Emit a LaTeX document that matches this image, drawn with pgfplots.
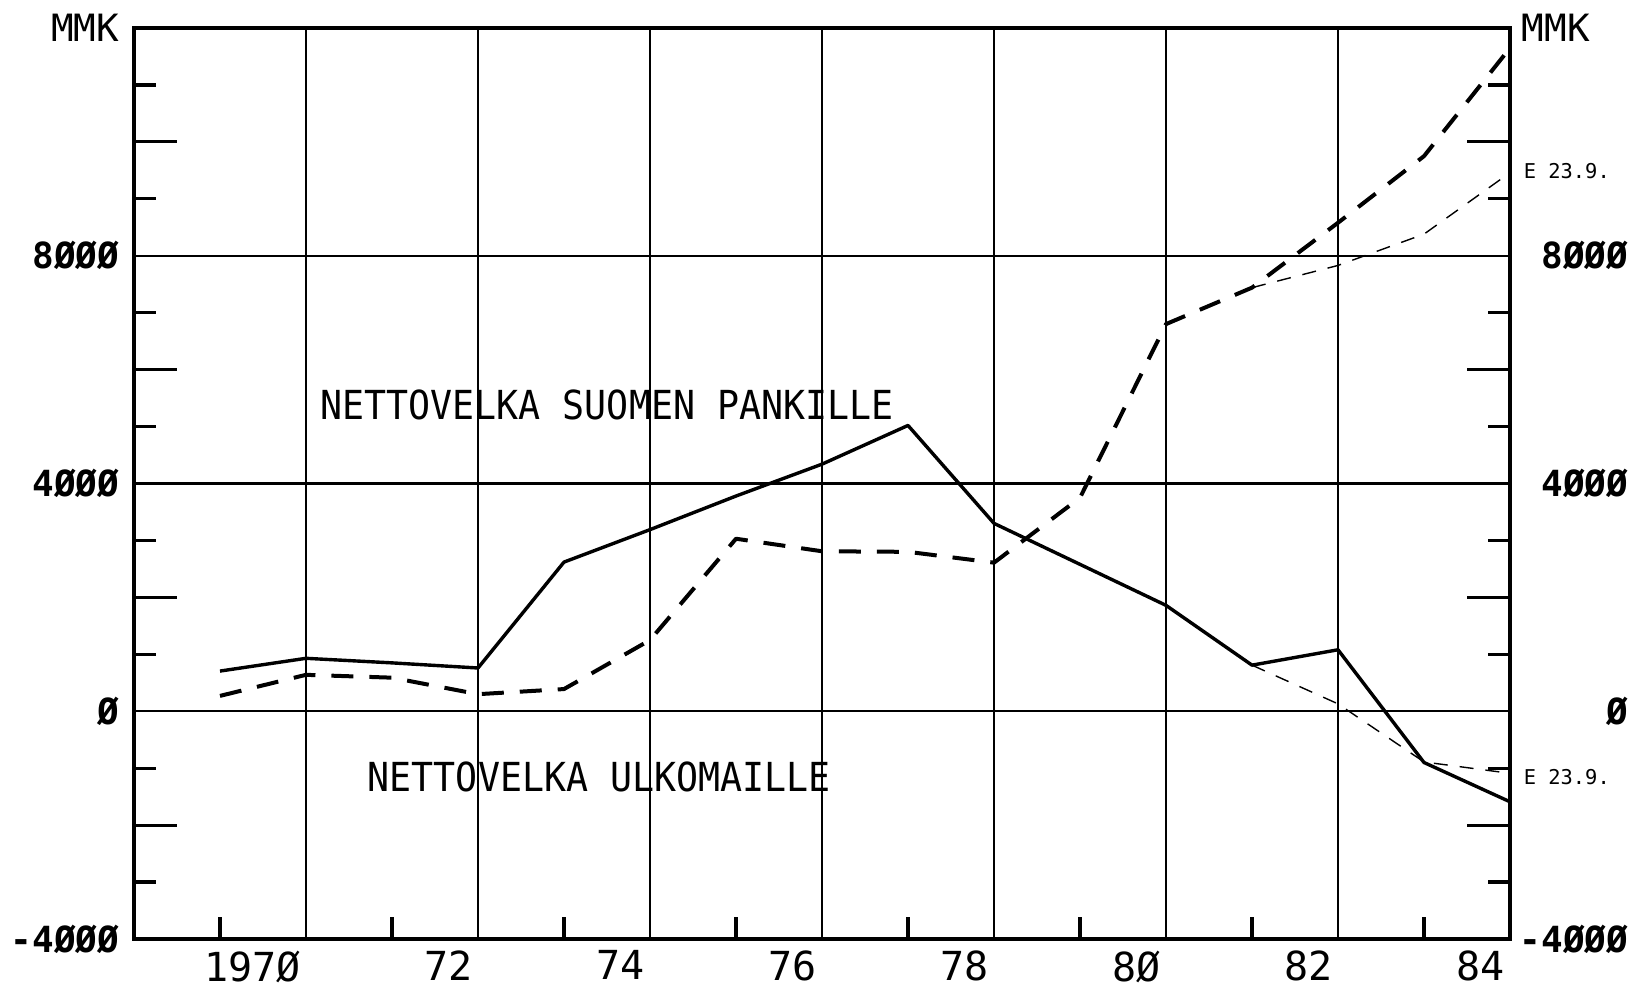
\documentclass[border=0pt]{standalone}
\usepackage{pgfplots}
\pgfplotsset{compat=1.18}
\usepackage{pgfplotstable}
\usepackage{fontspec}
\setmainfont{DejaVu Sans Mono}
\newfontfamily\txf[FakeStretch=0.915]{DejaVu Sans Mono}
\newcommand\xlabfont{\fontsize{10}{10}\selectfont}
\newcommand\ylabfont{\bfseries\fontsize{9}{9}\selectfont}
\newcommand\mmkfont{\fontsize{9.4}{9.4}\selectfont}
\newcommand\annfont{\txf\fontsize{10}{10}\selectfont}
\newcommand\efont{\fontsize{5.1}{5.1}\selectfont}

\pgfplotstableread{
year val
1969 706
1970 930
1971 850
1972 760
1973 2620
1974 3190
1975 3780
1976 4340
1977 5020
1978 3300
1979 2580
1980 1860
1981 810
1982 1080
1983 -900
1984 -1590
}\ulko

\pgfplotstableread{
year val
1969 270
1970 640
1971 590
1972 300
1973 390
1974 1250
1975 3030
1976 2810
1977 2800
1978 2610
1979 3750
1980 6800
1981 7440
1982 8580
1983 9750
1984 11650
}\pankki

\pgfplotstableread{
year val
1981 810
1982 130
1983 -890
1984 -1090
}\ulkoest

\pgfplotstableread{
year val
1981 7440
1982 7830
1983 8380
1984 9460
}\pankkiest

\begin{document}
\begin{tikzpicture}
\begin{axis}[
  scale only axis, width=344pt, height=227.75pt,
  xmin=1968, xmax=1984, ymin=-4000, ymax=12000,
  clip=false,
  axis line style={line width=1pt},
  xtick={1970,1972,...,1984},
  xticklabels={197Ø,72,74,76,78,8Ø,82,84},
  minor xtick={1969,1971,...,1983},
  ytick={-4000,0,4000,8000,12000},
  yticklabels={-4ØØØ,Ø,4ØØØ,8ØØØ,{\mmkfont\mdseries MMK}},
  minor ytick={-3000,-1000,1000,3000,5000,7000,9000,11000},
  extra y ticks={-2000,2000,6000,10000},
  extra y tick labels={},
  extra y tick style={major tick length=10.75pt, grid=none},
  scaled y ticks=false, scaled x ticks=false,
  xmajorgrids, ymajorgrids,
  grid style={line width=0.6pt, black},
  major tick length=0pt, minor tick length=5.5pt,
  tick align=inside,
  xtick pos=left, ytick pos=both,
  tick style={black, line width=0.8pt},
  xticklabel style={font=\xlabfont, anchor=north east, inner sep=0pt, xshift=-1.2pt, yshift=-2.75pt},
  yticklabel style={font=\ylabfont, anchor=east, inner sep=0pt, xshift=-3.5pt},
]
\addplot[black, line width=0.85pt, line join=round] table[x=year,y=val] {\ulko};
\addplot[black, line width=1pt, dash pattern=on 5.5pt off 4pt, line join=round] table[x=year,y=val] {\pankki};
\addplot[black, line width=0.35pt, dash pattern=on 3.5pt off 3pt] table[x=year,y=val] {\ulkoest};
\addplot[black, line width=0.35pt, dash pattern=on 3.5pt off 3pt] table[x=year,y=val] {\pankkiest};
\node[anchor=west, inner sep=0pt, font=\annfont] at (axis cs:1970.16,5385) {NETTOVELKA SUOMEN PANKILLE};
\node[anchor=west, inner sep=0pt, font=\annfont] at (axis cs:1970.71,-1158) {NETTOVELKA ULKOMAILLE};
\node[anchor=west, inner sep=0pt, font=\efont, xshift=3.25pt] at (axis cs:1984,9489) {E 23.9.};
\node[anchor=west, inner sep=0pt, font=\efont, xshift=3.25pt] at (axis cs:1984,-1158) {E 23.9.};
\node[anchor=west, inner sep=0pt, font=\mmkfont, xshift=2.75pt] at (axis cs:1984,12000) {MMK};
\end{axis}
\begin{axis}[
  scale only axis, width=344pt, height=227.75pt,
  xmin=1968, xmax=1984, ymin=-4000, ymax=12000,
  axis line style={draw=none},
  xtick=\empty,
  ytick={-4000,0,4000,8000},
  yticklabels={-4ØØØ,Ø,4ØØØ,8ØØØ},
  scaled y ticks=false,
  major tick length=0pt,
  ytick pos=right, yticklabel pos=right,
  yticklabel style={font=\ylabfont, anchor=east, inner sep=0pt, xshift=29.75pt},
]
\end{axis}
\pgfresetboundingbox
\path[use as bounding box] (-33.5pt,-12.5pt) rectangle (377.75pt,234.75pt);
\end{tikzpicture}
\end{document}
